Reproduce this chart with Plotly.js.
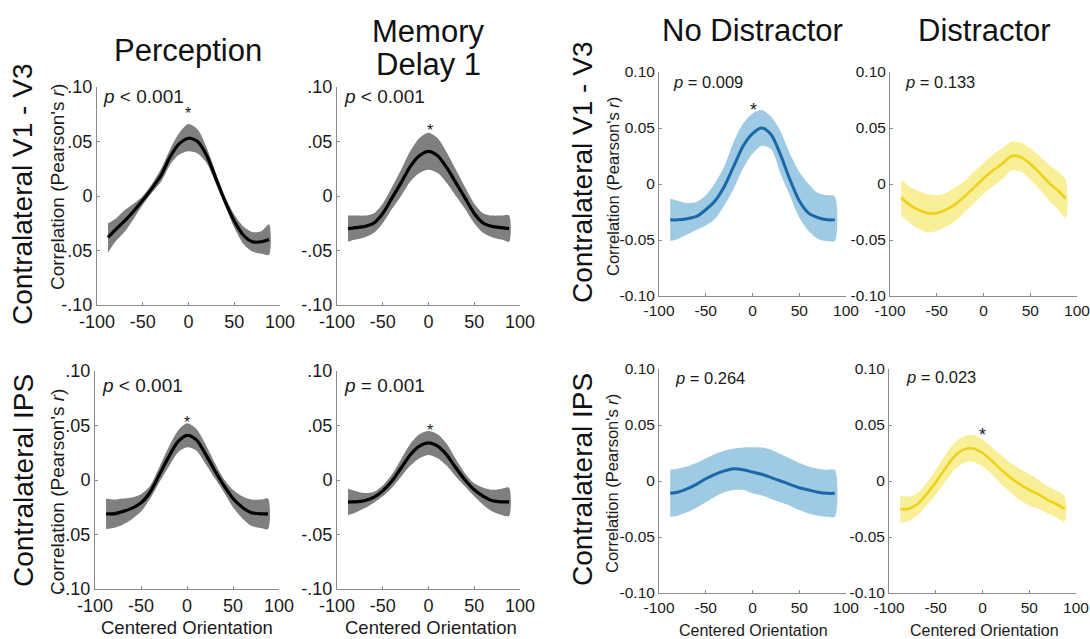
<!DOCTYPE html>
<html>
<head>
<meta charset="utf-8">
<script src="https://cdn.plot.ly/plotly-3.0.1.min.js"></script>
<style>html,body{margin:0;padding:0;background:#fff;}#chart{width:1090px;height:639px;}</style>
</head>
<body>
<div id="chart"></div>
<script>
// ---------- DATA ----------
const orientation = [-88,-80,-70,-60,-50,-40,-30,-20,-10,0,10,20,30,40,50,60,70,80,88];
const xTicks = [-100,-50,0,50,100];
const yTicks = [-0.1,-0.05,0,0.05,0.1];
const yTickTextShort = ['-.10','-.05','0','.05','.10'];
const yTickTextLong = ['-0.10','-0.05','0','0.05','0.10'];
const columnTitles = ['Perception','Memory<br>Delay 1','No Distractor','Distractor'];
const rowTitles = ['Contralateral V1 - V3','Contralateral IPS'];
const pTexts = ['<i>p</i> &lt; 0.001','<i>p</i> &lt; 0.001','<i>p</i> = 0.009','<i>p</i> = 0.133',
                '<i>p</i> &lt; 0.001','<i>p</i> = 0.001','<i>p</i> = 0.264','<i>p</i> = 0.023'];
const significant = [true,true,true,false,true,true,false,true];

// Perception, V1-V3
const percV1Mean  = [-0.038,-0.031,-0.023,-0.014,-0.004,0.007,0.019,0.036,0.048,0.053,0.050,0.037,0.016,-0.005,-0.023,-0.036,-0.042,-0.042,-0.040];
const percV1Upper = [-0.025,-0.021,-0.013,-0.007,0.000,0.011,0.025,0.043,0.058,0.066,0.061,0.044,0.021,-0.001,-0.017,-0.028,-0.033,-0.032,-0.026];
const percV1Lower = [-0.052,-0.042,-0.033,-0.021,-0.008,0.003,0.013,0.029,0.038,0.041,0.039,0.030,0.011,-0.009,-0.029,-0.044,-0.051,-0.053,-0.054];
// Memory Delay 1, V1-V3
const memV1Mean  = [-0.030,-0.029,-0.028,-0.025,-0.016,-0.002,0.012,0.027,0.037,0.041,0.037,0.026,0.012,-0.002,-0.016,-0.025,-0.028,-0.029,-0.030];
const memV1Upper = [-0.018,-0.018,-0.018,-0.016,-0.007,0.008,0.024,0.041,0.053,0.058,0.053,0.040,0.024,0.008,-0.007,-0.016,-0.018,-0.018,-0.018];
const memV1Lower = [-0.042,-0.040,-0.038,-0.034,-0.025,-0.012,0.000,0.013,0.021,0.024,0.021,0.012,0.000,-0.012,-0.025,-0.034,-0.038,-0.040,-0.042];
// No Distractor, V1-V3
const noDisV1Mean  = [-0.032,-0.032,-0.031,-0.029,-0.023,-0.015,-0.002,0.016,0.034,0.045,0.050,0.044,0.026,0.004,-0.015,-0.026,-0.030,-0.032,-0.032];
const noDisV1Upper = [-0.013,-0.015,-0.017,-0.016,-0.010,0.001,0.016,0.038,0.054,0.063,0.066,0.060,0.047,0.027,0.011,0.000,-0.008,-0.010,-0.011];
const noDisV1Lower = [-0.051,-0.049,-0.045,-0.041,-0.037,-0.031,-0.019,-0.004,0.014,0.027,0.034,0.031,0.009,-0.010,-0.030,-0.042,-0.049,-0.051,-0.051];
// Distractor, V1-V3
const disV1Mean  = [-0.012,-0.018,-0.023,-0.026,-0.026,-0.023,-0.018,-0.011,-0.003,0.005,0.012,0.018,0.025,0.024,0.018,0.010,0.001,-0.006,-0.013];
const disV1Upper = [0.004,-0.002,-0.006,-0.009,-0.010,-0.008,-0.003,0.003,0.011,0.019,0.026,0.032,0.038,0.037,0.032,0.025,0.017,0.011,0.004];
const disV1Lower = [-0.028,-0.034,-0.040,-0.043,-0.042,-0.038,-0.033,-0.025,-0.017,-0.009,-0.002,0.004,0.012,0.011,0.004,-0.005,-0.015,-0.023,-0.030];
// Perception, IPS
const percIpsMean  = [-0.031,-0.031,-0.029,-0.026,-0.021,-0.011,0.005,0.021,0.035,0.041,0.037,0.024,0.009,-0.005,-0.017,-0.025,-0.030,-0.031,-0.031];
const percIpsUpper = [-0.017,-0.018,-0.017,-0.016,-0.013,-0.005,0.012,0.030,0.045,0.052,0.047,0.033,0.016,0.001,-0.009,-0.015,-0.018,-0.018,-0.017];
const percIpsLower = [-0.045,-0.044,-0.041,-0.036,-0.029,-0.017,-0.002,0.012,0.025,0.030,0.027,0.015,0.002,-0.011,-0.025,-0.035,-0.042,-0.044,-0.045];
// Memory Delay 1, IPS
const memIpsMean  = [-0.020,-0.020,-0.019,-0.016,-0.010,-0.001,0.011,0.023,0.031,0.034,0.031,0.023,0.011,0.000,-0.009,-0.015,-0.019,-0.020,-0.020];
const memIpsUpper = [-0.008,-0.010,-0.012,-0.011,-0.005,0.005,0.019,0.033,0.042,0.045,0.042,0.033,0.019,0.006,-0.003,-0.007,-0.009,-0.008,-0.007];
const memIpsLower = [-0.032,-0.030,-0.026,-0.021,-0.015,-0.007,0.003,0.013,0.020,0.023,0.020,0.013,0.003,-0.006,-0.015,-0.023,-0.029,-0.032,-0.033];
// No Distractor, IPS
const noDisIpsMean  = [-0.011,-0.010,-0.007,-0.003,0.002,0.006,0.009,0.011,0.010,0.008,0.006,0.003,0.000,-0.003,-0.006,-0.008,-0.010,-0.011,-0.011];
const noDisIpsUpper = [0.010,0.011,0.013,0.016,0.020,0.024,0.027,0.029,0.030,0.030,0.030,0.028,0.024,0.020,0.016,0.013,0.011,0.010,0.010];
const noDisIpsLower = [-0.032,-0.031,-0.028,-0.024,-0.019,-0.014,-0.010,-0.008,-0.008,-0.011,-0.013,-0.016,-0.019,-0.022,-0.026,-0.029,-0.031,-0.032,-0.032];
// Distractor, IPS
const disIpsMean  = [-0.025,-0.025,-0.021,-0.012,-0.001,0.011,0.022,0.028,0.029,0.025,0.018,0.010,0.003,-0.003,-0.008,-0.012,-0.017,-0.021,-0.025];
const disIpsUpper = [-0.013,-0.014,-0.011,-0.002,0.010,0.023,0.034,0.040,0.041,0.037,0.030,0.023,0.016,0.011,0.006,0.001,-0.005,-0.009,-0.014];
const disIpsLower = [-0.037,-0.036,-0.031,-0.022,-0.012,-0.001,0.010,0.016,0.017,0.013,0.006,-0.003,-0.010,-0.017,-0.022,-0.025,-0.029,-0.033,-0.036];

// ---------- LAYOUT / STYLE ----------
const W = 1090, H = 639;
const FONT = 'Liberation Sans, Arial, Helvetica, sans-serif';
const COLORS = {
  gray:   {band:'#7f7f7f', line:'#000000', width:3.2},
  blue:   {band:'#9fcae3', line:'#1a68a8', width:3},
  yellow: {band:'#f8ef98', line:'#eed21a', width:2.6}
};
const panels = [
  {mean:percV1Mean,  up:percV1Upper,  lo:percV1Lower,  c:'gray',   xpx:[97,280],  ypx:[87,305],  big:true},
  {mean:memV1Mean,   up:memV1Upper,   lo:memV1Lower,   c:'gray',   xpx:[337,520], ypx:[87,305],  big:true},
  {mean:noDisV1Mean, up:noDisV1Upper, lo:noDisV1Lower, c:'blue',   xpx:[659,846], ypx:[72,296],  big:false},
  {mean:disV1Mean,   up:disV1Upper,   lo:disV1Lower,   c:'yellow', xpx:[890,1077],ypx:[72,296],  big:false},
  {mean:percIpsMean, up:percIpsUpper, lo:percIpsLower, c:'gray',   xpx:[95,279],  ypx:[371,589], big:true},
  {mean:memIpsMean,  up:memIpsUpper,  lo:memIpsLower,  c:'gray',   xpx:[337,520], ypx:[371,589], big:true},
  {mean:noDisIpsMean,up:noDisIpsUpper,lo:noDisIpsLower,c:'blue',   xpx:[659,846], ypx:[369,593], big:false},
  {mean:disIpsMean,  up:disIpsUpper,  lo:disIpsLower,  c:'yellow', xpx:[889,1076],ypx:[369,593], big:false}
];
// annotation positions (px)
const pPos = [[101,97],[342,97],[671,82],[903,82],[100,386],[342,386],[673,378],[904,377]];
const starPos = [[188,113],[430,131],[753,110],null,[187,422],[430,430],null,[982,435]];
const yTitlePos = [[57,187],null,[613,187],null,[57,492],null,[612,484],null];
const xTitlePos = [null,null,null,null,[187,627],[431,627],[753,630],[984,630]];

const px2x = p => p / W;
const px2y = p => 1 - p / H;

const traces = [];
const layout = {
  width: W, height: H,
  margin: {l:0, r:0, t:0, b:0},
  paper_bgcolor: '#ffffff', plot_bgcolor: 'rgba(0,0,0,0)',
  showlegend: false,
  font: {family: FONT, color: '#1a1a1a'},
  annotations: []
};

panels.forEach((p, i) => {
  const n = i + 1;
  const xa = n === 1 ? 'x' : 'x' + n;
  const ya = n === 1 ? 'y' : 'y' + n;
  const col = COLORS[p.c];
  const bx = orientation.concat(orientation.slice().reverse());
  const by = p.up.concat(p.lo.slice().reverse());
  traces.push({x: bx, y: by, xaxis: xa, yaxis: ya, type: 'scatter', mode: 'lines',
    fill: 'toself', fillcolor: col.band, line: {width: 0, shape: 'spline', smoothing: 0.8, color: col.band}, hoverinfo: 'skip'});
  traces.push({x: orientation, y: p.mean, xaxis: xa, yaxis: ya, type: 'scatter', mode: 'lines',
    line: {color: col.line, width: col.width, shape: 'spline', smoothing: 0.8}, hoverinfo: 'skip'});

  const tickSize = p.big ? 18 : 15.5;
  const axColor = '#8a8a8a';
  layout['xaxis' + (n === 1 ? '' : n)] = {
    domain: [px2x(p.xpx[0]), px2x(p.xpx[1])], anchor: ya, range: [-100, 100],
    tickvals: xTicks, ticktext: xTicks.map(String), ticks: 'inside', ticklen: 3, tickcolor: axColor,
    showline: true, linecolor: axColor, linewidth: 1, showgrid: false, zeroline: false,
    ticklabeloverflow: 'allow',
    tickfont: {size: tickSize, family: FONT, color: '#1a1a1a'}, fixedrange: true
  };
  layout['yaxis' + (n === 1 ? '' : n)] = {
    domain: [px2y(p.ypx[1]), px2y(p.ypx[0])], anchor: xa, range: [-0.1, 0.1],
    tickvals: yTicks, ticktext: p.big ? yTickTextShort : yTickTextLong, ticks: 'inside', ticklen: 3, tickcolor: axColor,
    showline: true, linecolor: axColor, linewidth: 1, showgrid: false, zeroline: false,
    ticklabeloverflow: 'allow',
    tickfont: {size: tickSize, family: FONT, color: '#1a1a1a'}, fixedrange: true
  };

  layout.annotations.push({xref:'paper', yref:'paper', x: px2x(pPos[i][0]), y: px2y(pPos[i][1]),
    xanchor:'left', yanchor:'middle', text: pTexts[i], showarrow:false,
    font:{size: p.big ? 19 : 16.5, family: FONT, color:'#1a1a1a'}});
  if (significant[i] && starPos[i]) {
    layout.annotations.push({xref:'paper', yref:'paper', x: px2x(starPos[i][0]), y: px2y(starPos[i][1]),
      xanchor:'center', yanchor:'middle', text:'*', showarrow:false,
      font:{size: p.big ? 16 : 18, family: FONT, color:'#1a1a1a'}});
  }
  if (yTitlePos[i]) {
    layout.annotations.push({xref:'paper', yref:'paper', x: px2x(yTitlePos[i][0]), y: px2y(yTitlePos[i][1]),
      xanchor:'center', yanchor:'middle', textangle:-90, text:"Correlation (Pearson's <i>r</i>)", showarrow:false,
      font:{size: p.big ? 19 : 16.5, family: FONT, color:'#1a1a1a'}});
  }
  if (xTitlePos[i]) {
    layout.annotations.push({xref:'paper', yref:'paper', x: px2x(xTitlePos[i][0]), y: px2y(xTitlePos[i][1]),
      xanchor:'center', yanchor:'middle', text:'Centered Orientation', showarrow:false,
      font:{size: p.big ? 18.5 : 16, family: FONT, color:'#1a1a1a'}});
  }
});

// column titles (multi-line titles split into separate lines for tight spacing)
const colTitlePos = [[188,[50]],[428,[31,64]],[752,[30]],[984,[30]]];
columnTitles.forEach((t, k) => {
  t.split('<br>').forEach((line, j) => {
    layout.annotations.push({xref:'paper', yref:'paper', x: px2x(colTitlePos[k][0]), y: px2y(colTitlePos[k][1][j]),
      xanchor:'center', yanchor:'middle', text: line, showarrow:false,
      font:{size: 31, family: FONT, color:'#111'}});
  });
});
// row titles (left and right halves)
const rowTitlePos = [[[23,195],[582,173]], [[23,481],[582,480]]];
rowTitles.forEach((t, r) => {
  rowTitlePos[r].forEach(pos => {
    layout.annotations.push({xref:'paper', yref:'paper', x: px2x(pos[0]), y: px2y(pos[1]),
      xanchor:'center', yanchor:'middle', textangle:-90, text: t, showarrow:false,
      font:{size: 28, family: FONT, color:'#111'}});
  });
});

Plotly.newPlot('chart', traces, layout, {staticPlot: true, displayModeBar: false});
</script>
</body>
</html>
